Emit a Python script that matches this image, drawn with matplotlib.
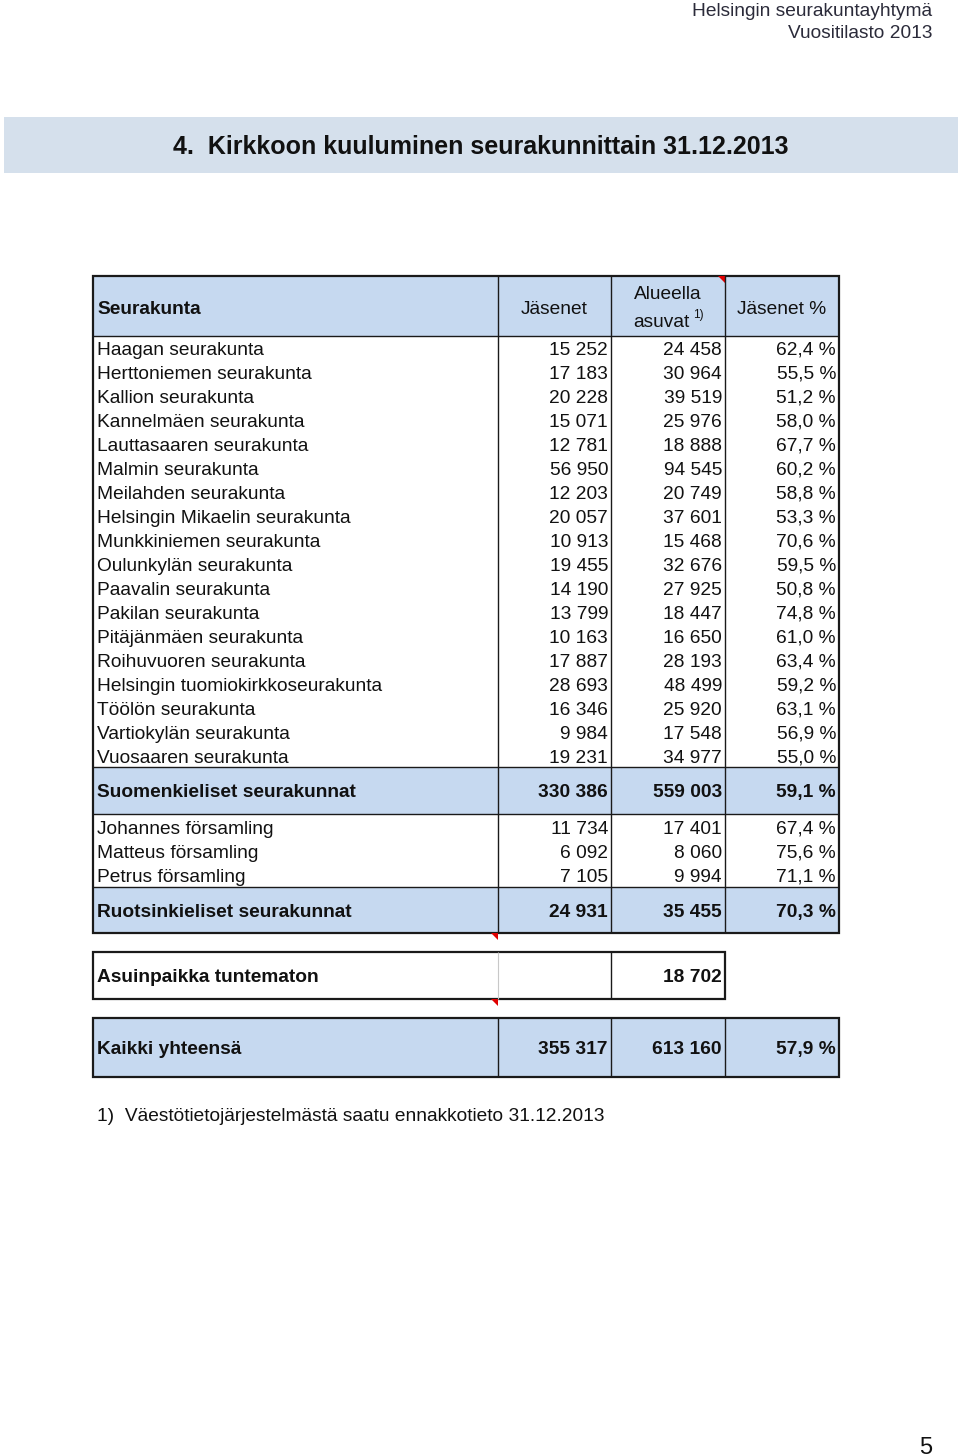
import matplotlib
matplotlib.use("Agg")
import matplotlib.pyplot as plt
from matplotlib.patches import Rectangle, Polygon

plt.rcParams['font.family'] = ['Liberation Sans', 'DejaVu Sans']

# ---------------- data ----------------
header_lines = ["Helsingin seurakuntayhtymä", "Vuositilasto 2013"]
title = "4.  Kirkkoon kuuluminen seurakunnittain 31.12.2013"
col_headers = ["Seurakunta", "Jäsenet", "Alueella", "asuvat", "1)", "Jäsenet %"]

fi_names = ["Haagan seurakunta", "Herttoniemen seurakunta", "Kallion seurakunta",
            "Kannelmäen seurakunta", "Lauttasaaren seurakunta", "Malmin seurakunta",
            "Meilahden seurakunta", "Helsingin Mikaelin seurakunta", "Munkkiniemen seurakunta",
            "Oulunkylän seurakunta", "Paavalin seurakunta", "Pakilan seurakunta",
            "Pitäjänmäen seurakunta", "Roihuvuoren seurakunta",
            "Helsingin tuomiokirkkoseurakunta", "Töölön seurakunta",
            "Vartiokylän seurakunta", "Vuosaaren seurakunta"]
fi_members = [15252, 17183, 20228, 15071, 12781, 56950, 12203, 20057, 10913,
              19455, 14190, 13799, 10163, 17887, 28693, 16346, 9984, 19231]
fi_residents = [24458, 30964, 39519, 25976, 18888, 94545, 20749, 37601, 15468,
                32676, 27925, 18447, 16650, 28193, 48499, 25920, 17548, 34977]
fi_pct = [62.4, 55.5, 51.2, 58.0, 67.7, 60.2, 58.8, 53.3, 70.6,
          59.5, 50.8, 74.8, 61.0, 63.4, 59.2, 63.1, 56.9, 55.0]

fi_total = ("Suomenkieliset seurakunnat", 330386, 559003, 59.1)

sv_names = ["Johannes församling", "Matteus församling", "Petrus församling"]
sv_members = [11734, 6092, 7105]
sv_residents = [17401, 8060, 9994]
sv_pct = [67.4, 75.6, 71.1]

sv_total = ("Ruotsinkieliset seurakunnat", 24931, 35455, 70.3)
unknown = ("Asuinpaikka tuntematon", 18702)
grand_total = ("Kaikki yhteensä", 355317, 613160, 57.9)

footnote = "1)  Väestötietojärjestelmästä saatu ennakkotieto 31.12.2013"
page_number = "5"

# ---------------- helpers ----------------
def fint(v):
    return f"{v:,}".replace(",", " ")

def fpct(v):
    return f"{v:.1f}".replace(".", ",") + " %"

W, H = 960, 1456
fig = plt.figure(figsize=(W / 100, H / 100), dpi=100)
ax = fig.add_axes([0, 0, 1, 1])
ax.set_xlim(0, W)
ax.set_ylim(H, 0)
ax.axis("off")

FILL = "#c6d9f0"
BAND = "#d5e0ec"
LINE = "#1a1a1a"
FS = 13.8
TXT = "#111111"

# column edges
x0, x1, x2, x3, x4 = 93, 498, 611, 725, 839

def T(x, y, s, **kw):
    """Place text so that its cap-height centre sits at y (baseline-based)."""
    kw.setdefault("fontsize", FS)
    kw.setdefault("color", TXT)
    fs_px = kw["fontsize"] * 100 / 72
    ax.text(x, y + 0.36 * fs_px, s, va="baseline", **kw)

def hline(y, xa, xb, lw=1.0, c=LINE):
    ax.plot([xa, xb], [y, y], color=c, lw=lw, solid_capstyle="butt")

def vline(x, ya, yb, lw=1.0, c=LINE):
    ax.plot([x, x], [ya, yb], color=c, lw=lw, solid_capstyle="butt")

def row_text(y, name, m, r, p, bold=False):
    w = "bold" if bold else "normal"
    T(x0 + 4, y, name, ha="left", fontweight=w)
    if m is not None:
        T(x2 - 3, y, fint(m), ha="right", fontweight=w)
    if r is not None:
        T(x3 - 3, y, fint(r), ha="right", fontweight=w)
    if p is not None:
        T(x4 - 3, y, fpct(p), ha="right", fontweight=w)

def red_tri(x, y):
    ax.add_patch(Polygon([[x - 7, y], [x, y], [x, y + 7]], closed=True, color="#e00000", lw=0))

# ---------------- page header ----------------
T(932, 9, header_lines[0], ha="right", fontsize=13.8, color="#2b2b3a")
T(932, 31, header_lines[1], ha="right", fontsize=13.8, color="#2b2b3a")

# title band
ax.add_patch(Rectangle((4, 117), 954, 56, facecolor=BAND, edgecolor="none"))
T(481, 145, title, ha="center", fontsize=18, fontweight="bold")

# ---------------- main table ----------------
top, hdr_b = 276, 336
row_h = 24
first_y = 348
fi_end = 767
fi_tot_b = 814
sv_end = 887
sv_tot_b = 933

ax.add_patch(Rectangle((x0, top), x4 - x0, hdr_b - top, facecolor=FILL, edgecolor="none"))
ax.add_patch(Rectangle((x0, fi_end), x4 - x0, fi_tot_b - fi_end, facecolor=FILL, edgecolor="none"))
ax.add_patch(Rectangle((x0, sv_end), x4 - x0, sv_tot_b - sv_end, facecolor=FILL, edgecolor="none"))

# header text
T(x0 + 4, 307, col_headers[0], ha="left", fontweight="bold")
T((x1 + x2) / 2, 307, col_headers[1], ha="center")
T((x2 + x3) / 2, 292, col_headers[2], ha="center")
T(661, 320, col_headers[3], ha="center")
T(693, 314, col_headers[4], ha="left", fontsize=8.5)
T((x3 + x4) / 2, 307, col_headers[5], ha="center")

for i, (n, m, r, p) in enumerate(zip(fi_names, fi_members, fi_residents, fi_pct)):
    row_text(first_y + i * row_h, n, m, r, p)

row_text((fi_end + fi_tot_b) / 2, *fi_total, bold=True)

for i, (n, m, r, p) in enumerate(zip(sv_names, sv_members, sv_residents, sv_pct)):
    row_text(827 + i * row_h, n, m, r, p)

row_text((sv_end + sv_tot_b) / 2, *sv_total, bold=True)

# lines of main table
for y in (hdr_b, fi_end, fi_tot_b, sv_end):
    hline(y, x0, x4, lw=1.0)
for x in (x1, x2, x3):
    vline(x, top, sv_tot_b, lw=1.0)
ax.add_patch(Rectangle((x0, top), x4 - x0, sv_tot_b - top, facecolor="none", edgecolor=LINE, lw=1.6))
red_tri(x3, top)
red_tri(x1, sv_tot_b)

# ---------------- unknown residence ----------------
ut, ub = 952, 999
vline(x1, ut, ub, lw=0.8, c="#c8c8c8")
vline(x2, ut, ub, lw=1.0)
ax.add_patch(Rectangle((x0, ut), x3 - x0, ub - ut, facecolor="none", edgecolor=LINE, lw=1.6))
T(x0 + 4, (ut + ub) / 2, unknown[0], ha="left", fontweight="bold")
T(x3 - 3, (ut + ub) / 2, fint(unknown[1]), ha="right", fontweight="bold")
red_tri(x1, ub)

# ---------------- grand total ----------------
gt, gb = 1018, 1077
ax.add_patch(Rectangle((x0, gt), x4 - x0, gb - gt, facecolor=FILL, edgecolor="none"))
for x in (x1, x2, x3):
    vline(x, gt, gb, lw=1.0)
ax.add_patch(Rectangle((x0, gt), x4 - x0, gb - gt, facecolor="none", edgecolor=LINE, lw=1.6))
row_text((gt + gb) / 2, *grand_total, bold=True)

# ---------------- footnote & page number ----------------
T(97, 1114, footnote, ha="left")
T(932, 1445, page_number, ha="right", fontsize=17)

fig.savefig("out.png", dpi=100)
